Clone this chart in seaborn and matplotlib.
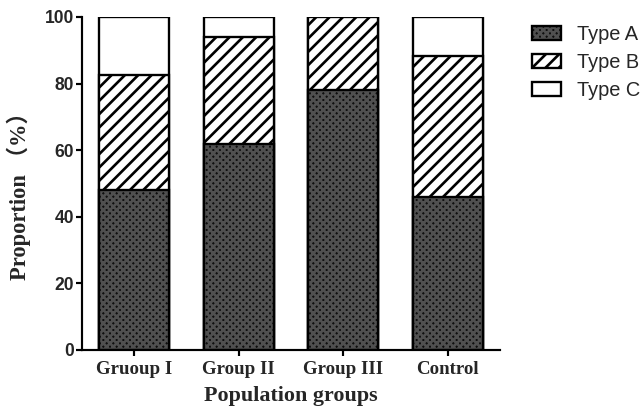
import matplotlib
matplotlib.use("Agg")
import matplotlib.pyplot as plt
import seaborn as sns
import numpy as np
import pandas as pd
from matplotlib.patches import Patch

groups = ["Gruoup I", "Group II", "Group III", "Control"]
type_a = [48, 62, 78, 46]
type_b = [34.7, 32, 22, 42.3]
type_c = [17.3, 6, 0, 11.7]
yticks = [0, 20, 40, 60, 80, 100]

sns.set_style("white")
plt.rcParams["hatch.linewidth"] = 1.6

DPI = 120
fig = plt.figure(figsize=(644 / DPI, 409 / DPI), dpi=DPI)
ax = fig.add_axes([82 / 644, 1 - 350 / 409, (500 - 82) / 644, (350 - 17) / 409])

a = np.array(type_a, float)
b = np.array(type_b, float)
c = np.array(type_c, float)
df = pd.DataFrame({"group": groups, "top": a + b + c, "ab": a + b, "a": a})

W = 0.667
HATCH_B = "///"
HATCH_A = "xxxxxx"
A_FACE = "#0e0e0e"
A_HATCH = "#505050"

def layer(col, **props):
    n0 = len(ax.patches)
    sns.barplot(data=df, x="group", y=col, order=groups, width=W,
                saturation=1, color="white", ax=ax, errorbar=None)
    for p in ax.patches[n0:]:
        p.set(**props)

layer("top", facecolor="white", edgecolor="black", linewidth=1.4, hatch=None)
layer("ab", facecolor="white", edgecolor="black", linewidth=1.4, hatch=HATCH_B)
layer("a", facecolor=A_FACE, edgecolor=A_HATCH, linewidth=0, hatch=HATCH_A)
layer("a", fill=False, edgecolor="black", linewidth=1.4, hatch=None)

ax.set_xlim(-0.5, 3.5)
ax.set_ylim(0, 100)
ax.set_yticks(yticks)
ax.set_yticklabels([str(v) for v in yticks])
sns.despine(ax=ax)
for s in ["left", "bottom"]:
    ax.spines[s].set_linewidth(1.3)
    ax.spines[s].set_color("black")
ax.tick_params(axis="both", direction="out", length=3.6, width=1.3, color="black",
               left=True, bottom=True)
ax.tick_params(axis="y", pad=1)
ax.tick_params(axis="x", pad=3)
for t in ax.get_yticklabels():
    t.set_fontfamily("Liberation Sans")
    t.set_fontweight("bold")
    t.set_fontsize(10.5)
for t in ax.get_xticklabels():
    t.set_fontfamily("Liberation Serif")
    t.set_fontweight("bold")
    t.set_fontsize(11.3)

ax.set_xlabel("Population groups", family="Liberation Serif", weight="bold",
              fontsize=13.2, labelpad=5)
ax.set_ylabel("Proportion （%）", family=["Liberation Serif", "Noto Sans CJK SC"],
              weight="bold", fontsize=13.5)
ax.yaxis.set_label_coords(-0.122, 0.48)

hA = (Patch(facecolor=A_FACE, edgecolor=A_HATCH, linewidth=0, hatch=HATCH_A),
      Patch(fill=False, edgecolor="black", linewidth=1.4))
hB = Patch(facecolor="white", edgecolor="black", linewidth=1.4, hatch=HATCH_B)
hC = Patch(facecolor="white", edgecolor="black", linewidth=1.4)
fig.legend([hA, hB, hC], ["Type A", "Type B", "Type C"],
           loc="upper left", bbox_to_anchor=(532 / 644, 1 - 25 / 409),
           frameon=False, borderpad=0, borderaxespad=0,
           handlelength=1.45, handleheight=0.75, handletextpad=0.8,
           labelspacing=0.45, prop={"family": "Liberation Sans", "size": 12})

fig.savefig("out.png", dpi=DPI)
